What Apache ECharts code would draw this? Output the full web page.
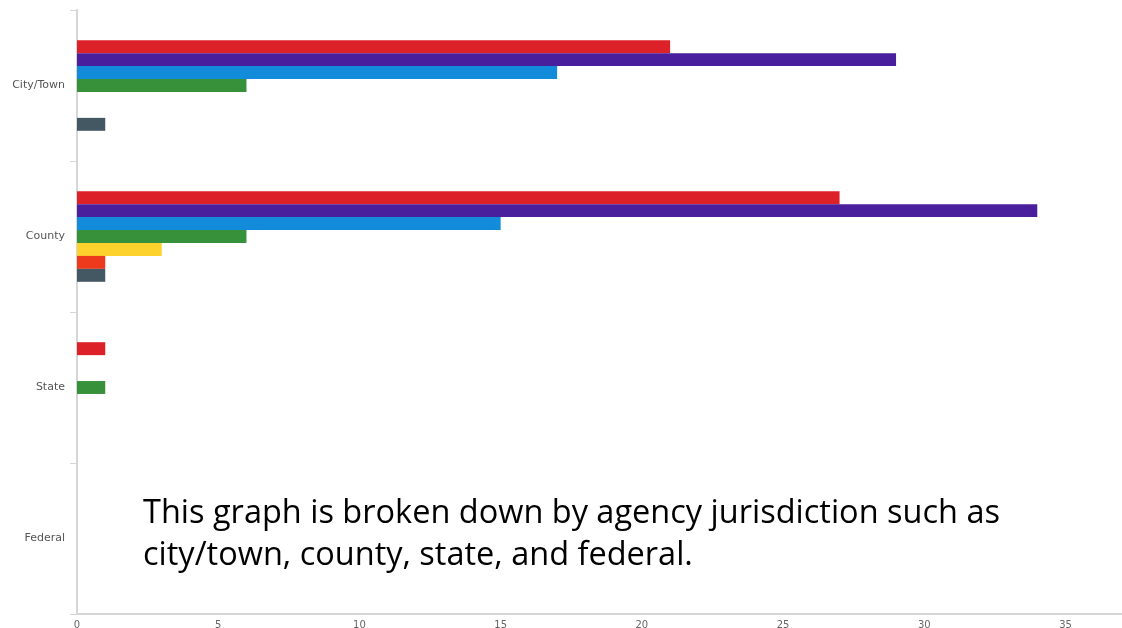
<!DOCTYPE html>
<html>
<head>
<meta charset="utf-8">
<script src="https://cdn.jsdelivr.net/npm/echarts@6/dist/echarts.min.js"></script>
<style>
    html, body { margin: 0; padding: 0; background: #fff; }
    #main { width: 1122px; height: 628px; }
</style>
</head>
<body>
<div id="main"></div>
<script>
// 辖区分类
var jurisdictions = ['City/Town', 'County', 'State', 'Federal'];

// 各系列数值（顺序同上）
var redData    = [21, 27, 1, 0];
var purpleData = [29, 34, 0, 0];
var blueData   = [17, 15, 0, 0];
var greenData  = [6, 6, 1, 0];
var yellowData = [0, 3, 0, 0];
var orangeData = [0, 1, 0, 0];
var slateData  = [1, 1, 0, 0];

var xTicks = [0, 5, 10, 15, 20, 25, 30, 35];

var noteText = 'This graph is broken down by agency jurisdiction such as\ncity/town, county, state, and federal.';

var seriesList = [
    {name: 'Series 1', data: redData, color: '#dc2128'},
    {name: 'Series 2', data: purpleData, color: '#4a1f9e'},
    {name: 'Series 3', data: blueData, color: '#128bdb'},
    {name: 'Series 4', data: greenData, color: '#37903a'},
    {name: 'Series 5', data: yellowData, color: '#fdd22c'},
    {name: 'Series 6', data: orangeData, color: '#ee3a1c'},
    {name: 'Series 7', data: slateData, color: '#435862'}
];

function buildSeries(list){
    var arr = [];
    for (var i in list) {
        arr.push({
            name: list[i].name,
            type: 'bar',
            data: list[i].data,
            barGap: '0%',
            barCategoryGap: '40%',
            itemStyle: {color: list[i].color},
            animation: false
        });
    }
    return arr;
}

var chart = echarts.init(document.getElementById('main'));
chart.setOption({
    animation: false,
    grid: {left: 77, right: 0, top: 10, bottom: 14, containLabel: false, outerBoundsMode: 'none'},
    xAxis: {
        type: 'value',
        min: 0,
        max: 37,
        interval: 5,
        axisLine: {show: true, lineStyle: {color: '#d6d6d6', width: 2}},
        axisTick: {show: false},
        splitLine: {show: false},
        axisLabel: {
            color: '#666',
            fontSize: 10,
            fontFamily: 'DejaVu Sans',
            margin: 6,
            formatter: function (v) {
                return xTicks.indexOf(v) >= 0 ? String(v) : '';
            }
        }
    },
    yAxis: {
        type: 'category',
        data: jurisdictions,
        inverse: true,
        axisLine: {show: true, lineStyle: {color: '#d6d6d6', width: 2}},
        axisTick: {show: true, length: 7, lineStyle: {color: '#d6d6d6'}},
        axisLabel: {color: '#555', fontSize: 11, fontFamily: 'DejaVu Sans', margin: 12}
    },
    series: buildSeries(seriesList),
    graphic: [{
        type: 'text',
        left: 143,
        top: 493,
        style: {
            text: noteText,
            font: '32.5px "Open Sans"',
            fill: '#000',
            lineHeight: 42
        }
    }]
});
</script>
</body>
</html>
